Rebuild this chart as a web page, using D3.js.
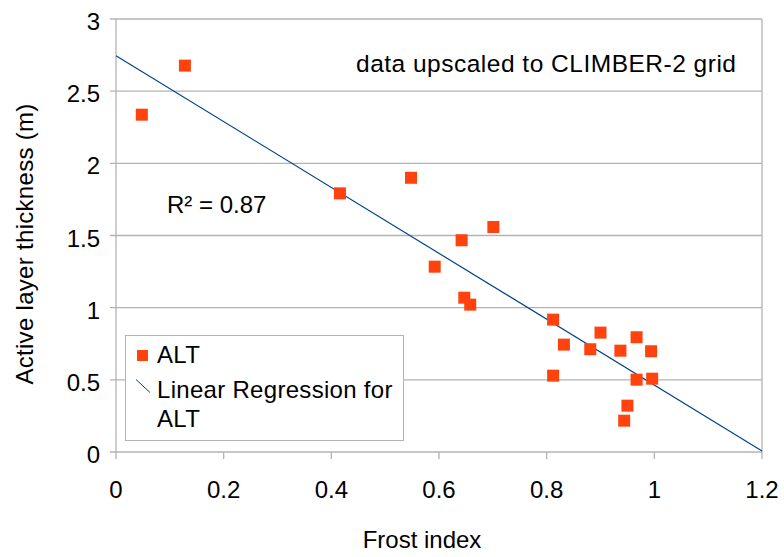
<!DOCTYPE html>
<html>
<head>
<meta charset="utf-8">
<script src="https://cdn.jsdelivr.net/npm/d3@7"></script>
<style>
  body { margin: 0; background: #fff; }
  text { font-family: "Liberation Sans", Arial, sans-serif; fill: #000; }
</style>
</head>
<body>
<svg id="chart"></svg>
<script>
// frost index vs active layer thickness (m)
let frost_index = [0.048, 0.128, 0.416, 0.548, 0.592, 0.642, 0.647, 0.658, 0.701,
    0.812, 0.812, 0.832, 0.881, 0.900, 0.937, 0.944, 0.950, 0.967, 0.967, 0.994, 0.996];
let alt_values = [2.337, 2.677, 1.792, 1.900, 1.284, 1.467, 1.069, 1.021, 1.559,
    0.917, 0.529, 0.744, 0.712, 0.827, 0.702, 0.217, 0.321, 0.795, 0.501, 0.698, 0.508];

let x_ticks = [0, 0.2, 0.4, 0.6, 0.8, 1, 1.2];
let y_ticks = [0, 0.5, 1, 1.5, 2, 2.5, 3];

let width = 784;
let height = 557;
let margin = {left: 116, right: 22, top: 19, bottom: 105};

let point_color = "#ff420e";
let line_color = "#004586";
let grid_color = "#b3b3b3";
let font_size = "24px";

let svg = d3.select("#chart")
    .attr("width", width)
    .attr("height", height);

let x = d3.scaleLinear().domain([0, 1.2]).range([margin.left, width - margin.right]);
let y = d3.scaleLinear().domain([0, 3]).range([height - margin.bottom, margin.top]);

// grid lines
svg.append("g")
    .selectAll("line")
    .data(y_ticks)
    .enter().append("line")
    .attr("x1", x(0) - 6)
    .attr("x2", x(1.2))
    .attr("y1", function (d) { return y(d); })
    .attr("y2", function (d) { return y(d); })
    .attr("stroke", grid_color)
    .attr("stroke-width", 1.3);

// frame
svg.append("line")
    .attr("x1", x(0)).attr("x2", x(0))
    .attr("y1", y(3)).attr("y2", y(0))
    .attr("stroke", grid_color).attr("stroke-width", 1.3);
svg.append("line")
    .attr("x1", x(1.2)).attr("x2", x(1.2))
    .attr("y1", y(3)).attr("y2", y(0))
    .attr("stroke", grid_color).attr("stroke-width", 1.3);

// x ticks
svg.append("g")
    .selectAll("line")
    .data(x_ticks)
    .enter().append("line")
    .attr("x1", function (d) { return x(d); })
    .attr("x2", function (d) { return x(d); })
    .attr("y1", y(0))
    .attr("y2", y(0) + 7)
    .attr("stroke", grid_color)
    .attr("stroke-width", 1.3);

svg.append("g")
    .selectAll("text")
    .data(x_ticks)
    .enter().append("text")
    .attr("x", function (d) { return x(d); })
    .attr("y", y(0) + 46)
    .attr("text-anchor", "middle")
    .style("font-size", font_size)
    .text(function (d) { return String(d); });

svg.append("g")
    .selectAll("text")
    .data(y_ticks)
    .enter().append("text")
    .attr("x", x(0) - 16)
    .attr("y", function (d) { return y(d) + 11; })
    .attr("text-anchor", "end")
    .style("font-size", font_size)
    .text(function (d) { return String(d); });

// axis titles
svg.append("text")
    .attr("x", 422)
    .attr("y", 548)
    .attr("text-anchor", "middle")
    .style("font-size", font_size)
    .text("Frost index");

svg.append("text")
    .attr("transform", "translate(33,244) rotate(-90)")
    .attr("text-anchor", "middle")
    .style("font-size", font_size)
    .style("letter-spacing", "0.3px")
    .text("Active layer thickness (m)");

// regression line
let mean_x = d3.mean(frost_index);
let mean_y = d3.mean(alt_values);
let sxy = d3.sum(frost_index, function (v, i) { return (v - mean_x) * (alt_values[i] - mean_y); });
let sxx = d3.sum(frost_index, function (v) { return (v - mean_x) * (v - mean_x); });
let slope = sxy / sxx;
let intercept = mean_y - slope * mean_x;

svg.append("line")
    .attr("x1", x(0))
    .attr("y1", y(intercept))
    .attr("x2", x(1.2))
    .attr("y2", y(intercept + slope * 1.2))
    .attr("stroke", line_color)
    .attr("stroke-width", 1.2);

// points
let pts = frost_index.map(function (v, i) { return {fx: v, alt: alt_values[i]}; });
svg.append("g")
    .selectAll("rect")
    .data(pts)
    .enter().append("rect")
    .attr("x", function (d) { return x(d.fx) - 6; })
    .attr("y", function (d) { return y(d.alt) - 6; })
    .attr("width", 12)
    .attr("height", 12)
    .attr("fill", point_color);

// annotations
svg.append("text")
    .attr("x", 356)
    .attr("y", 72)
    .style("font-size", "24.5px")
    .style("letter-spacing", "0.5px")
    .text("data upscaled to CLIMBER-2 grid");

svg.append("text")
    .attr("x", 167)
    .attr("y", 213)
    .style("font-size", font_size)
    .text("R² = 0.87");

// legend
let legend = svg.append("g");
legend.append("rect")
    .attr("x", 125.5)
    .attr("y", 335.5)
    .attr("width", 278)
    .attr("height", 105)
    .attr("fill", "#fff")
    .attr("stroke", grid_color)
    .attr("stroke-width", 1);
legend.append("rect")
    .attr("x", 137)
    .attr("y", 350)
    .attr("width", 11)
    .attr("height", 11)
    .attr("fill", point_color);
legend.append("line")
    .attr("x1", 136).attr("y1", 379.5)
    .attr("x2", 150).attr("y2", 392.5)
    .attr("stroke", line_color)
    .attr("stroke-width", 1);

let legend_lines = [["ALT", 363], ["Linear Regression for", 398], ["ALT", 427]];
legend.selectAll("text.item")
    .data(legend_lines)
    .enter().append("text")
    .attr("class", "item")
    .attr("x", 157)
    .attr("y", function (d) { return d[1]; })
    .style("font-size", font_size)
    .style("letter-spacing", "0.3px")
    .text(function (d) { return d[0]; });
</script>
</body>
</html>
